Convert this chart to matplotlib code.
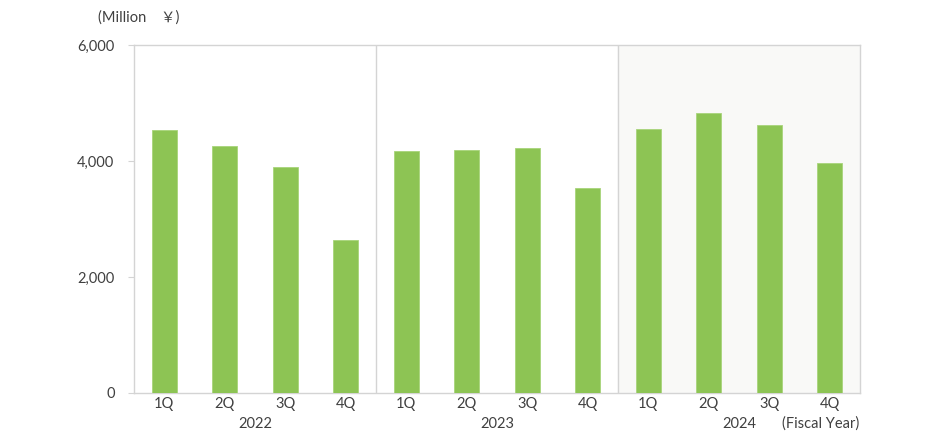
import numpy as np
import matplotlib.pyplot as plt
from matplotlib.transforms import blended_transform_factory

# Data (Million yen)
quarters = ['1Q', '2Q', '3Q', '4Q'] * 3
years = ['2022', '2023', '2024']
sales = [4535, 4255, 3890, 2640,
         4175, 4195, 4225, 3530,
         4555, 4830, 4620, 3970]

BAR_COLOR = '#8DC454'
TEXT_COLOR = '#404040'
FRAME_COLOR = '#d4d4d4'

plt.rcParams['font.family'] = ['Lato', 'Noto Sans CJK JP', 'DejaVu Sans']

fig = plt.figure(figsize=(9.3, 4.41), dpi=100)
ax = fig.add_axes([134 / 930, 48 / 441, 726 / 930, 348 / 441])

x = np.arange(len(sales))
ax.bar(x, sales, width=0.41, color=BAR_COLOR, edgecolor='#a8d47a', linewidth=0.6, zorder=3)

# shaded area for the latest fiscal year + year separators
ax.axvspan(7.5, 11.5, color='#f9f9f7', zorder=0)
for sep in [3.5, 7.5]:
    ax.axvline(sep, color=FRAME_COLOR, linewidth=1, zorder=1)

ax.set_xlim(-0.5, 11.5)
ax.set_ylim(0, 6000)
ax.set_yticks([0, 2000, 4000, 6000])
ax.set_yticklabels(['{:,}'.format(v) for v in [0, 2000, 4000, 6000]])
ax.set_xticks(x)
ax.set_xticklabels(quarters)
ax.tick_params(axis='y', direction='out', length=4, width=0.8, color=FRAME_COLOR,
               labelsize=10.5, labelcolor=TEXT_COLOR, pad=10)
ax.tick_params(axis='x', length=0, labelsize=10.5, labelcolor=TEXT_COLOR, pad=3)

for spine in ax.spines.values():
    spine.set_color(FRAME_COLOR)
    spine.set_linewidth(1)

trans = blended_transform_factory(ax.transData, ax.transAxes)
for i, yr in enumerate(years):
    ax.text(i * 4 + 1.5, -0.088, yr, transform=trans, ha='center', va='center',
            fontsize=10.5, color=TEXT_COLOR)
ax.text(10.85, -0.088, '(Fiscal Year)', transform=trans, ha='center', va='center',
        fontsize=10.5, color=TEXT_COLOR)

fig.text(98 / 930, 1 - 18 / 441, '(Million\u3000\uffe5)', ha='left', va='center',
         fontsize=10.5, color=TEXT_COLOR)

fig.savefig('out.png', dpi=100)
